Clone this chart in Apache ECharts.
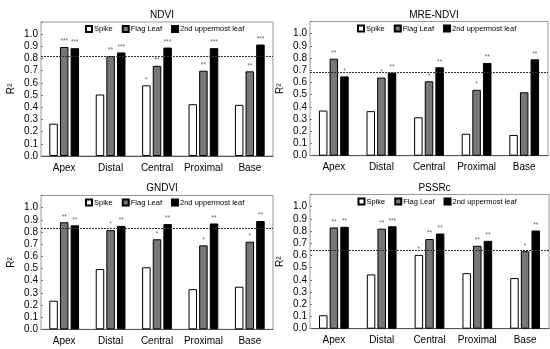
<!DOCTYPE html>
<html><head><meta charset="utf-8">
<script src="https://cdn.jsdelivr.net/npm/echarts@6/dist/echarts.min.js"></script>
<style>html,body{margin:0;padding:0;background:#fff}#c{width:550px;height:349px}</style>
</head><body><div id="c"></div>
<script>
const categories = ['Apex', 'Distal', 'Central', 'Proximal', 'Base'];
const seriesNames = ['Spike', 'Flag Leaf', '2nd uppermost leaf'];
const panelTitles = ['NDVI', 'MRE-NDVI', 'GNDVI', 'PSSRc'];
const yTicks = [0, 0.1, 0.2, 0.3, 0.4, 0.5, 0.6, 0.7, 0.8, 0.9, 1.0];

const ndviSpike  = [0.265, 0.505, 0.58, 0.425, 0.42];
const ndviFlag   = [0.895, 0.82, 0.74, 0.70, 0.695];
const ndviSecond = [0.885, 0.85, 0.89, 0.885, 0.915];
const ndviSpikeStars  = ['', '', '*', '', ''];
const ndviFlagStars   = ['***', '**', '**', '**', '**'];
const ndviSecondStars = ['***', '***', '***', '***', '***'];
const ndviThreshold = 0.82;

const mreSpike  = [0.37, 0.365, 0.315, 0.18, 0.17];
const mreFlag   = [0.795, 0.64, 0.61, 0.54, 0.52];
const mreSecond = [0.65, 0.68, 0.725, 0.76, 0.79];
const mreSpikeStars  = ['', '', '', '', ''];
const mreFlagStars   = ['**', '*', '*', '*', ''];
const mreSecondStars = ['*', '**', '**', '**', '**'];
const mreThreshold = 0.675;

const gndviSpike  = [0.235, 0.495, 0.51, 0.33, 0.35];
const gndviFlag   = [0.88, 0.815, 0.74, 0.69, 0.72];
const gndviSecond = [0.855, 0.85, 0.865, 0.87, 0.89];
const gndviSpikeStars  = ['', '', '', '', ''];
const gndviFlagStars   = ['**', '*', '*', '*', '*'];
const gndviSecondStars = ['**', '**', '**', '**', '**'];
const gndviThreshold = 0.83;

const pssrSpike  = [0.11, 0.445, 0.605, 0.455, 0.415];
const pssrFlag   = [0.83, 0.82, 0.735, 0.68, 0.635];
const pssrSecond = [0.835, 0.84, 0.78, 0.72, 0.805];
const pssrSpikeStars  = ['', '', '*', '', ''];
const pssrFlagStars   = ['**', '**', '**', '**', '*'];
const pssrSecondStars = ['**', '***', '**', '**', '**'];
const pssrThreshold = 0.64;

const panels = [
  {vals: [ndviSpike, ndviFlag, ndviSecond], stars: [ndviSpikeStars, ndviFlagStars, ndviSecondStars], thr: ndviThreshold},
  {vals: [mreSpike, mreFlag, mreSecond], stars: [mreSpikeStars, mreFlagStars, mreSecondStars], thr: mreThreshold},
  {vals: [gndviSpike, gndviFlag, gndviSecond], stars: [gndviSpikeStars, gndviFlagStars, gndviSecondStars], thr: gndviThreshold},
  {vals: [pssrSpike, pssrFlag, pssrSecond], stars: [pssrSpikeStars, pssrFlagStars, pssrSecondStars], thr: pssrThreshold}
];

const FONT = '"Liberation Sans", Arial, sans-serif';
const grids = [
  {left: 41, top: 22, width: 232, height: 134},
  {left: 310, top: 21.5, width: 238, height: 134.2},
  {left: 41, top: 195.5, width: 232, height: 133.8},
  {left: 310, top: 194.5, width: 239, height: 134.2}
];
const colors = ['#ffffff', '#777777', '#000000'];

const option = {
  animation: false,
  backgroundColor: '#fff',
  textStyle: {fontFamily: FONT},
  title: grids.map((g, i) => ({
    text: panelTitles[i], left: g.left + g.width / 2, textAlign: 'center',
    top: i < 2 ? 5 : 178,
    textStyle: {fontSize: 10, fontWeight: 'normal', color: '#000', fontFamily: FONT}
  })),
  legend: grids.map((g, i) => ({
    data: seriesNames, left: g.left + g.width / 2 - 72, top: g.top + 3,
    icon: 'rect', itemWidth: 6, itemHeight: 6, itemGap: 9, padding: 0,
    textStyle: {fontSize: 7.5, color: '#000', fontFamily: FONT, padding: [0, 0, 0, -3]},
    selectedMode: false
  })),
  grid: grids.map(g => ({left: g.left, top: g.top, width: g.width, height: g.height, show: true, borderColor: '#999', borderWidth: 1, containLabel: false})),
  xAxis: grids.map((g, i) => ({
    type: 'category', gridIndex: i, data: categories,
    axisLine: {lineStyle: {color: '#555', width: 1}}, axisTick: {show: false},
    axisLabel: {interval: 0, fontSize: 10, color: '#000', margin: 7, fontFamily: FONT}
  })),
  yAxis: grids.map((g, i) => ({
    type: 'value', gridIndex: i, min: 0, max: 1.1, interval: 0.1,
    name: 'R²', nameLocation: 'middle', nameGap: 25,
    nameTextStyle: {fontSize: 10, color: '#000', fontFamily: FONT},
    axisLine: {show: false}, splitLine: {show: false},
    axisTick: {show: true, inside: true, length: 2, lineStyle: {color: '#777'}},
    axisLabel: {fontSize: 10, color: '#000', margin: 3, fontFamily: FONT,
      formatter: v => { const t = yTicks.find(x => Math.abs(x - v) < 1e-6); return t === undefined ? '' : t.toFixed(1); }}
  })),
  series: []
};

panels.forEach((p, gi) => {
  seriesNames.forEach((name, si) => {
    const s = {
      type: 'bar', name: name, xAxisIndex: gi, yAxisIndex: gi,
      data: p.vals[si], barWidth: 8.5, barGap: '25%',
      itemStyle: {color: colors[si], borderColor: '#000', borderWidth: 1},
      label: {show: true, position: 'top', distance: 2, fontSize: 6.5, color: '#666', fontFamily: FONT,
        formatter: prm => p.stars[si][prm.dataIndex]}
    };
    if (si === 2) {
      s.markLine = {silent: true, symbol: 'none', label: {show: false},
        lineStyle: {type: [2, 1], color: '#333', width: 1},
        data: [{yAxis: p.thr}]};
    }
    option.series.push(s);
  });
});

const chart = echarts.init(document.getElementById('c'), null, {renderer: 'canvas'});
chart.setOption(option);
</script></body></html>
